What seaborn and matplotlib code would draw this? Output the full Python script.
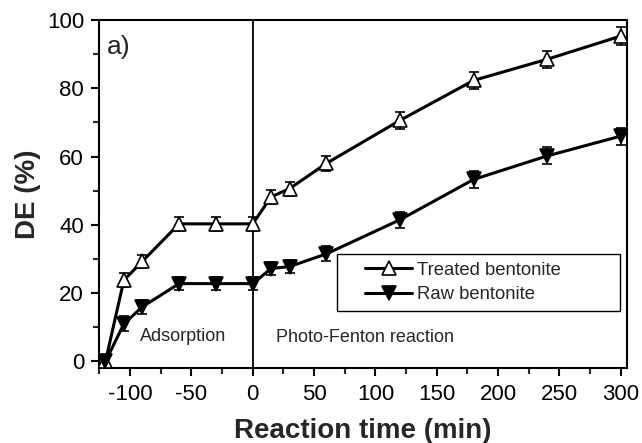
import numpy as np
import pandas as pd
import seaborn as sns
import matplotlib.pyplot as plt
from matplotlib.patches import Rectangle
from matplotlib.ticker import MultipleLocator

sns.set_style("ticks")
plt.rcParams['font.family'] = ['Liberation Sans', 'DejaVu Sans']
plt.rcParams['axes.unicode_minus'] = False

time_min = [-120, -105, -90, -60, -30, 0, 15, 30, 60, 120, 180, 240, 300]
treated = [0, 23.8, 29.3, 40.3, 40.3, 40.3, 48.2, 50.6, 58.0, 70.6, 82.3, 88.5, 95.3]
treated_err = [0.8, 2.0, 2.0, 2.0, 2.0, 2.0, 2.0, 2.0, 2.2, 2.4, 2.4, 2.5, 2.5]
raw = [0, 11.0, 16.0, 22.8, 22.8, 22.8, 27.2, 27.8, 31.5, 41.5, 53.3, 60.2, 66.0]
raw_err = [0.8, 2.2, 2.0, 2.0, 2.0, 2.0, 2.0, 2.0, 2.2, 2.4, 2.4, 2.5, 2.5]

df = pd.DataFrame({"time": time_min, "treated": treated, "raw": raw})

fig = plt.figure(figsize=(6.42, 4.43), dpi=100)
ax = fig.add_axes([0.1547, 0.1686, 0.8219, 0.7863])

ax.axvline(0, color="black", lw=1.3, zorder=1)

ax.errorbar(time_min, treated, yerr=treated_err, fmt="none", ecolor="black",
            elinewidth=1.2, capsize=3.5, capthick=1.2, zorder=2)
ax.errorbar(time_min, raw, yerr=raw_err, fmt="none", ecolor="black",
            elinewidth=1.2, capsize=3.5, capthick=1.2, zorder=2)

sns.lineplot(data=df, x="time", y="treated", ax=ax, color="black", lw=2.2,
             marker="^", markersize=9.5, markerfacecolor="white",
             markeredgecolor="black", markeredgewidth=1.2,
             label="Treated bentonite", zorder=3)
sns.lineplot(data=df, x="time", y="raw", ax=ax, color="black", lw=2.2,
             marker="v", markersize=9.5, markerfacecolor="black",
             markeredgecolor="black", markeredgewidth=1.2,
             label="Raw bentonite", zorder=3)

ax.set_xlim(-125, 305)
ax.set_ylim(-2, 100)
ax.xaxis.set_major_locator(MultipleLocator(50))
ax.xaxis.set_minor_locator(MultipleLocator(25))
ax.yaxis.set_major_locator(MultipleLocator(20))
ax.yaxis.set_minor_locator(MultipleLocator(10))
ax.tick_params(which="major", direction="out", length=6, width=1.5, labelsize=16,
               colors="black", pad=5)
ax.tick_params(which="minor", direction="out", length=4, width=1.5)

for s in ax.spines.values():
    s.set_linewidth(1.5)
    s.set_color("black")

ax.set_xlabel("Reaction time (min)", fontsize=20, fontweight="bold", labelpad=10)
ax.set_ylabel("DE (%)", fontsize=20, fontweight="bold", labelpad=4)

ax.text(-118.5, 92.2, "a)", fontsize=19, va="center", ha="left")
ax.text(-92, 7.3, "Adsorption", fontsize=13, va="center", ha="left")
ax.text(19, 7.0, "Photo-Fenton reaction", fontsize=13, va="center", ha="left")

# legend frame drawn separately (wide right margin like the original)
ax.add_patch(Rectangle((0.45, 0.1645), 0.537, 0.163, transform=ax.transAxes,
                       facecolor="white", edgecolor="black", lw=1.0, zorder=4))
leg = ax.legend(loc="center left", bbox_to_anchor=(0.504, 0.246), fontsize=13.3,
                frameon=False, borderpad=0, borderaxespad=0,
                handlelength=2.55, labelspacing=0.4, handletextpad=0.25)
leg.set_zorder(5)

fig.savefig("out.png", dpi=100)
